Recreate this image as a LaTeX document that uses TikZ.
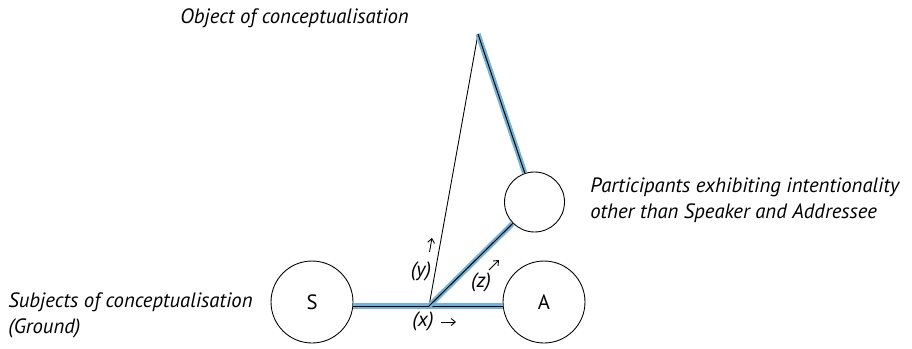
\documentclass[tikz,border=0pt]{standalone}
\usepackage{fontspec}
\setmainfont{PT Sans}
\usetikzlibrary{arrows.meta, positioning, calc}
\definecolor{GroundBlue}{RGB}{118, 178, 214}

\begin{document}
\begin{tikzpicture}[x=0.02cm, y=-0.02cm,
    party/.style={circle, draw=black, line width=0.5pt, fill=white, inner sep=0pt,
                  font=\fontsize{11.8}{14}\selectfont},
    hilite/.style={preaction={draw=GroundBlue, line width=3pt}, draw=black, line width=0.55pt},
    caption/.style={font=\fontsize{11.8}{14.7}\selectfont\itshape, align=left, inner sep=0pt},
    marker/.style={font=\fontsize{11.8}{14}\selectfont\itshape, inner sep=0pt},
    tick/.style={-{Straight Barb[length=2.4pt, width=4pt]}, line width=0.5pt}]
  \useasboundingbox (0,0) rectangle (912,348);

  % circles
  \node[party, minimum size=1.64cm] (S) at (312,302) {S};
  \node[party, minimum size=1.64cm] (A) at (544,302) {A};
  \node[party, minimum size=1.2cm] (P) at (534.5,202) {};
  \coordinate (x) at (429,306);
  \coordinate (apex) at (478,34);

  % lines
  \draw[hilite] (S.east |- x) -- (A.west |- x);
  \draw[line width=0.5pt] (x) -- (apex);
  \draw[hilite] (x) -- (P);
  \draw[hilite] (apex) -- (P);

  % small labels
  \node[marker] (xlab) at (423,321) {(x)};
  \draw[tick] (441,322) -- (456,322);
  \node[marker] (ylab) at (421,271) {(y)};
  \draw[tick] (429.5,252) -- (432,238);
  \node[marker] (zlab) at (481,282) {(z)};
  \draw[tick] (489,270) -- (499,260);

  % captions
  \node[caption, anchor=west] (obj) at (180,18) {Object of conceptualisation};
  \node[caption, anchor=west] (part) at (590,200) {Participants exhibiting intentionality\\other than Speaker and Addressee};
  \node[caption, anchor=west] (subj) at (8,315) {Subjects of conceptualisation\\(Ground)};
\end{tikzpicture}
\end{document}
